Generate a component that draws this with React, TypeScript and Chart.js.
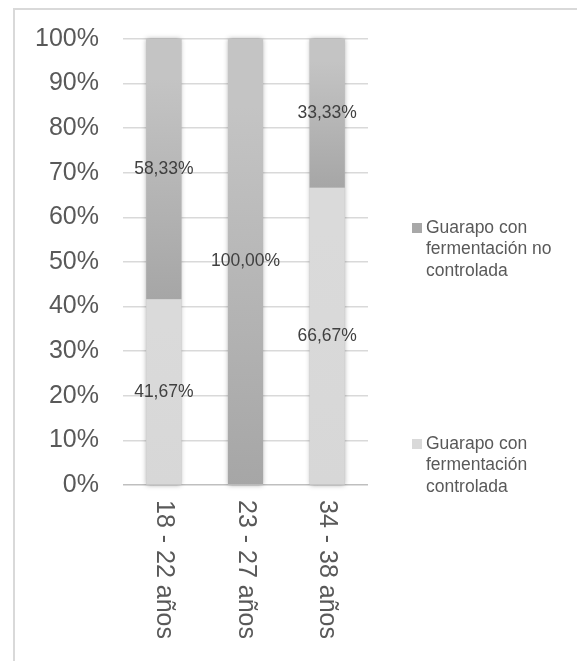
import React, { useEffect, useRef } from "react";
import { Chart, registerables } from "chart.js";

Chart.register(...registerables);

const categories = ["18 - 22 años", "23 - 27 años", "34 - 38 años"];
const controlada = [41.67, 0, 66.67];
const noControlada = [58.33, 100, 33.33];
const yTicks = [0, 10, 20, 30, 40, 50, 60, 70, 80, 90, 100];
const legendNoControlada = ["Guarapo con", "fermentación no", "controlada"];
const legendControlada = ["Guarapo con", "fermentación", "controlada"];

const FONT = "'Liberation Sans', Arial, sans-serif";
const TEXT = "#595959";

const fmt = (v: number) => v.toFixed(2).replace(".", ",") + "%";

export default function App() {
  const ref = useRef<HTMLCanvasElement | null>(null);

  useEffect(() => {
    if (!ref.current) return;

    const shadowPlugin = {
      id: "barShadow",
      beforeDatasetsDraw(chart: any) {
        const ctx = chart.ctx;
        const ys = chart.scales.y;
        const meta = chart.getDatasetMeta(1);
        ctx.save();
        ctx.shadowColor = "rgba(0,0,0,0.35)";
        ctx.shadowBlur = 5;
        ctx.shadowOffsetX = 0;
        ctx.shadowOffsetY = 0;
        ctx.fillStyle = "#c0c0c0";
        meta.data.forEach((el: any, i: number) => {
          const top = ys.getPixelForValue(controlada[i] + noControlada[i]);
          const bottom = ys.getPixelForValue(0);
          ctx.fillRect(el.x - el.width / 2, top, el.width, bottom - top);
        });
        ctx.restore();
      },
    };

    const labelsPlugin = {
      id: "extras",
      afterDraw(chart: any) {
        const ctx = chart.ctx;
        const ca = chart.chartArea;
        // data labels
        ctx.save();
        ctx.font = `17.5px ${FONT}`;
        ctx.fillStyle = "#404040";
        ctx.textAlign = "center";
        ctx.textBaseline = "middle";
        chart.data.datasets.forEach((ds: any, di: number) => {
          const meta = chart.getDatasetMeta(di);
          meta.data.forEach((el: any, i: number) => {
            const v = ds.data[i];
            if (!v) return;
            const cy = (el.y + el.base) / 2;
            ctx.fillText(fmt(v), el.x, cy);
          });
        });
        ctx.restore();

        // rotated x labels
        const xs = chart.scales.x;
        ctx.save();
        ctx.font = `25px ${FONT}`;
        ctx.fillStyle = TEXT;
        ctx.textAlign = "left";
        ctx.textBaseline = "middle";
        categories.forEach((c, i) => {
          const x = xs.getPixelForTick(i);
          ctx.save();
          ctx.translate(x, ca.bottom + 15);
          ctx.rotate(Math.PI / 2);
          ctx.fillText(c, 0, 0);
          ctx.restore();
        });
        ctx.restore();

        // legend
        ctx.save();
        ctx.font = `17.5px ${FONT}`;
        ctx.textAlign = "left";
        ctx.textBaseline = "middle";
        const lx = ca.right + 44;
        const items = [
          { lines: legendNoControlada, color: "#a8a8a8", y: 228 },
          { lines: legendControlada, color: "#d9d9d9", y: 444 },
        ];
        items.forEach((it) => {
          ctx.fillStyle = it.color;
          ctx.fillRect(lx, it.y - 5, 10, 10);
          ctx.fillStyle = TEXT;
          it.lines.forEach((ln, k) => {
            ctx.fillText(ln, lx + 14, it.y + k * 21.5);
          });
        });
        ctx.restore();
      },
    };

    const gradFor = (c: any, topColor: string, bottomColor: string, isTop: boolean) => {
      const chart = c.chart;
      const i = c.dataIndex;
      const y = chart.scales && chart.scales.y;
      if (i === undefined || !y || !chart.chartArea) return bottomColor;
      const base = isTop ? controlada[i] : 0;
      const top = isTop ? controlada[i] + noControlada[i] : controlada[i];
      const y0 = y.getPixelForValue(top);
      const y1 = y.getPixelForValue(base);
      if (!isFinite(y0) || !isFinite(y1) || y0 === y1) return bottomColor;
      const g = chart.ctx.createLinearGradient(0, y0, 0, y1);
      g.addColorStop(0, topColor);
      g.addColorStop(0.15, topColor);
      g.addColorStop(1, bottomColor);
      return g;
    };

    const chart = new Chart(ref.current, {
      type: "bar",
      data: {
        labels: categories,
        datasets: [
          {
            label: "Guarapo con fermentación controlada",
            data: controlada,
            backgroundColor: (c: any) => gradFor(c, "#dadada", "#d7d7d7", false),
            borderWidth: 0,
            categoryPercentage: 1,
            barPercentage: 0.43,
          },
          {
            label: "Guarapo con fermentación no controlada",
            data: noControlada,
            backgroundColor: (c: any) => gradFor(c, "#c4c4c4", "#a6a6a6", true),
            borderWidth: 0,
            categoryPercentage: 1,
            barPercentage: 0.43,
          },
        ],
      },
      options: {
        responsive: false,
        animation: false,
        layout: { padding: { top: 37, right: 209, bottom: 0, left: 0 } },
        plugins: {
          legend: { display: false },
          tooltip: { enabled: false },
        },
        scales: {
          x: {
            stacked: true,
            grid: { display: false },
            border: { display: false },
            ticks: { display: false },
            afterFit: (s: any) => {
              s.height = 661 - 485;
            },
          },
          y: {
            stacked: true,
            min: 0,
            max: 100,
            afterBuildTicks: (s: any) => {
              s.ticks = yTicks.map((v) => ({ value: v }));
            },
            afterFit: (s: any) => {
              s.width = 123;
            },
            grid: {
              color: (c: any) => (c.tick && c.tick.value === 0 ? "#bfbfbf" : "#d9d9d9"),
              lineWidth: 1.5,
              drawTicks: false,
            },
            border: { display: false },
            ticks: {
              padding: 24,
              color: TEXT,
              font: { family: FONT, size: 25 },
              callback: (v: any) => v + "%",
            },
          },
        },
      },
      plugins: [shadowPlugin, labelsPlugin],
    });

    return () => chart.destroy();
  }, []);

  return (
    <div style={{ position: "absolute", left: 0, top: 0, width: 577, height: 661, background: "#fff" }}>
      <div
        style={{
          position: "absolute",
          left: 13,
          top: 8,
          width: 577 - 13,
          height: 661 - 8,
          borderLeft: "2px solid #d9d9d9",
          borderTop: "2px solid #d9d9d9",
          boxSizing: "border-box",
        }}
      />
      <canvas
        ref={ref}
        width={577}
        height={661}
        style={{ position: "absolute", left: 0, top: 0, display: "block" }}
      />
    </div>
  );
}
